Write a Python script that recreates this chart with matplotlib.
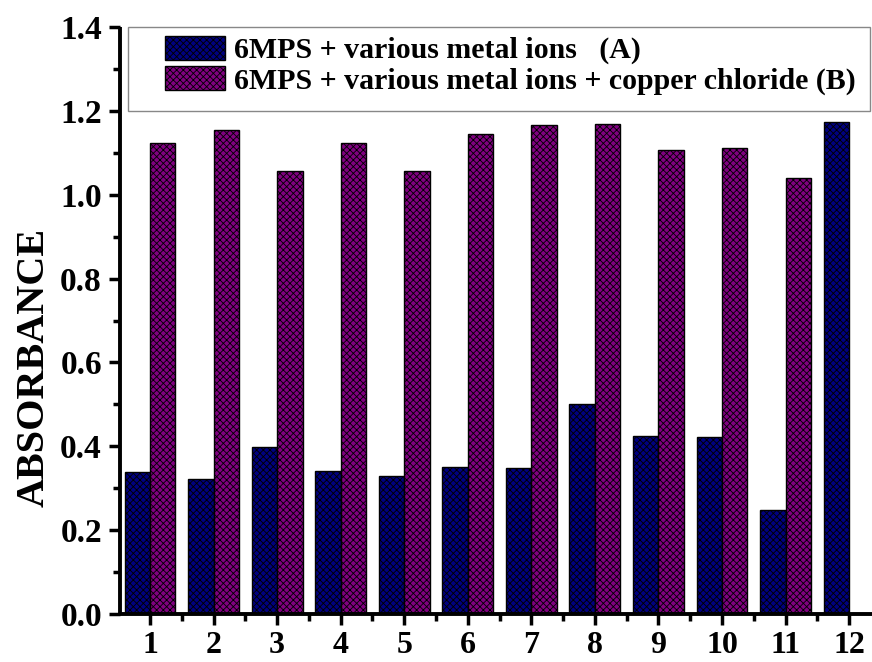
import numpy as np
import matplotlib
matplotlib.use("Agg")
import matplotlib.pyplot as plt
from matplotlib.patches import Rectangle
from matplotlib.ticker import MultipleLocator

plt.rcParams["font.family"] = ["Liberation Serif", "DejaVu Serif"]
plt.rcParams["font.weight"] = "bold"
plt.rcParams["hatch.linewidth"] = 0.6
plt.rcParams["hatch.color"] = "black"

samples = np.arange(1, 13)
absorb_a = [0.338, 0.323, 0.399, 0.342, 0.330, 0.350, 0.348, 0.500, 0.424, 0.423, 0.248, 1.174]
absorb_b = [1.124, 1.155, 1.057, 1.124, 1.057, 1.146, 1.167, 1.169, 1.106, 1.112, 1.039, np.nan]
label_a = "6MPS + various metal ions   (A)"
label_b = "6MPS + various metal ions + copper chloride (B)"

fig = plt.figure(figsize=(8.72, 6.62), dpi=100)
ax = fig.add_axes([0.1376, 0.0725, 0.8624, 0.8867])

w = 0.4
ax.bar(samples - w / 2, absorb_a, width=w, color="#000080", edgecolor="black",
       linewidth=1.0, hatch="xxxxx", label=label_a)
ax.bar(samples + w / 2, absorb_b, width=w, color="#800080", edgecolor="black",
       linewidth=1.0, hatch="xxxxx", label=label_b)

ax.set_xlim(0.528, 12.36)
ax.set_ylim(0, 1.4)
ax.set_xticks(samples)
ax.xaxis.set_minor_locator(MultipleLocator(0.5))
ax.yaxis.set_major_locator(MultipleLocator(0.2))
ax.yaxis.set_minor_locator(MultipleLocator(0.1))
ax.yaxis.set_major_formatter(lambda v, p: f"{v:.1f}")

for side in ["top", "right"]:
    ax.spines[side].set_visible(False)
for side in ["left", "bottom"]:
    ax.spines[side].set_linewidth(2.8)
    ax.spines[side].set_capstyle("butt")

ax.tick_params(which="major", direction="out", length=8, width=2.5, labelsize=24, pad=5)
ax.tick_params(axis="x", which="major", labelsize=23, pad=4)
ax.tick_params(which="minor", direction="out", length=5, width=2.5)
for lab in ax.get_xticklabels() + ax.get_yticklabels():
    lab.set_fontweight("bold")

ax.set_ylabel("ABSORBANCE", fontsize=29, fontweight="bold")
ax.yaxis.set_label_coords(-0.09, 0.42)

# legend frame drawn as its own box, handles sit further in
ax.add_patch(Rectangle((0.0106, 0.857), 0.9864, 0.143, transform=ax.transAxes,
                       facecolor="white", edgecolor="#888888", linewidth=1.0,
                       zorder=4, clip_on=False))
leg = ax.legend(loc="upper left", bbox_to_anchor=(0.052, 0.995),
                fontsize=21.5, frameon=False, handlelength=2.0,
                handleheight=0.85, handletextpad=0.3, borderaxespad=0,
                labelspacing=0.05, borderpad=0.2)
leg.set_zorder(5)
for t in leg.get_texts():
    t.set_fontweight("bold")

fig.savefig("out.png", dpi=100)
